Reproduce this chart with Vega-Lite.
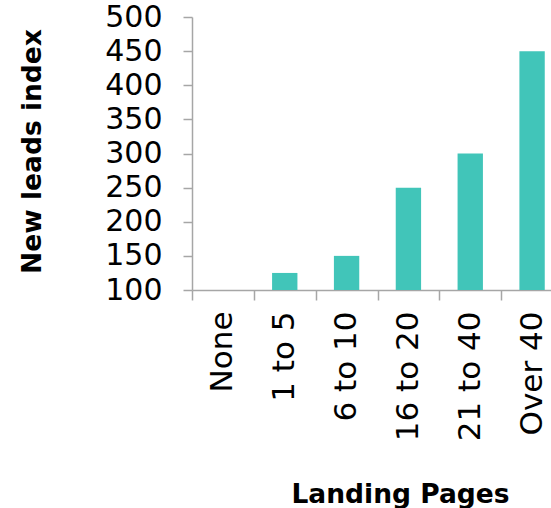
{
  "$schema": "https://vega.github.io/schema/vega-lite/v6.json",
  "autosize": {"type": "none"},
  "padding": {"left": 192, "top": 17, "right": 0, "bottom": 218},
  "width": 359,
  "height": 273,
  "config": {
    "font": "DejaVu Sans",
    "view": {"stroke": null},
    "axis": {
      "domainColor": "#A6A6A6",
      "tickColor": "#A6A6A6",
      "domainWidth": 1.5,
      "tickWidth": 1.5,
      "labelColor": "#000000",
      "titleColor": "#000000",
      "labelFont": "DejaVu Sans",
      "titleFont": "DejaVu Sans",
      "grid": false
    }
  },
  "data": {
    "values": [
      {"pages": "None", "index": 100},
      {"pages": "1 to 5", "index": 125},
      {"pages": "6 to 10", "index": 150},
      {"pages": "16 to 20", "index": 250},
      {"pages": "21 to 40", "index": 300},
      {"pages": "Over 40", "index": 450}
    ]
  },
  "mark": {"type": "bar", "color": "#41C5B9", "width": {"band": 0.41}},
  "encoding": {
    "x": {
      "field": "pages",
      "type": "nominal",
      "sort": null,
      "scale": {"paddingInner": 0, "paddingOuter": 0, "range": [0, 371]},
      "axis": {
        "title": "Landing Pages",
        "titleFontSize": 26.5,
        "titleFontWeight": "bold",
        "titleX": 208,
        "titleY": 212,
        "titleAlign": "center",
        "titleBaseline": "alphabetic",
        "labelAngle": -90,
        "labelFontSize": 31,
        "labelPadding": 11,
        "tickSize": 10,
        "tickBand": "extent"
      }
    },
    "y": {
      "field": "index",
      "type": "quantitative",
      "scale": {"domain": [100, 500], "zero": false, "nice": false},
      "axis": {
        "title": "New leads index",
        "titleFontSize": 26.5,
        "titleFontWeight": "bold",
        "titleX": -152,
        "titleY": 134,
        "titleAngle": -90,
        "titleAlign": "center",
        "titleBaseline": "alphabetic",
        "values": [100, 150, 200, 250, 300, 350, 400, 450, 500],
        "labelFontSize": 30,
        "labelPadding": 21,
        "tickSize": 9
      }
    },
    "y2": {"datum": 100}
  }
}
